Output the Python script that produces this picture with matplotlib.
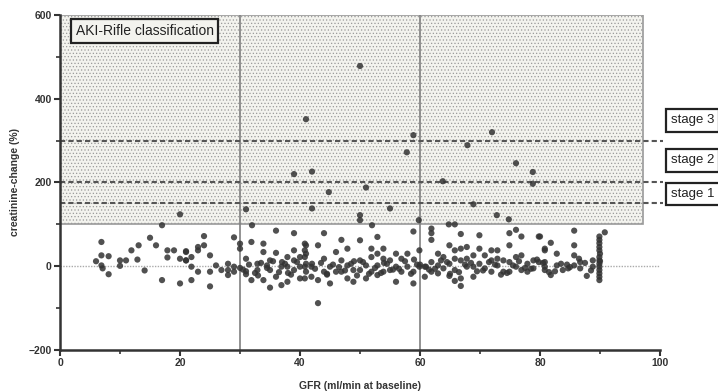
import numpy as np
import matplotlib
matplotlib.use("Agg")
import matplotlib.pyplot as plt

# points above the 100 % line (AKI region)
high_gfr = [20, 17, 31, 50, 41, 58.9, 57.8, 39, 42, 44.8, 51, 63.8, 67.9, 72, 76, 78.8, 78.8,
            68.9, 72.8, 74.8, 64.8, 65.8, 42, 55, 50, 50, 52, 59.8, 32]
high_chg = [124, 98, 136, 478, 351, 313, 272, 220, 226, 177, 188, 203, 289, 320, 246, 225, 197,
            148, 122, 112, 100, 100, 138, 138, 122, 110, 98, 110, 98]

band_gfr = [6.9, 6.0, 6.9, 8.1, 6.9, 7.1, 8.1, 10, 10, 11, 11.9, 13.1, 12.9, 14.1, 15, 16, 17, 17.9,
            17.9, 19, 20, 20, 21, 21,
            21, 21, 21.9, 21.9, 21.9, 23, 23, 24, 24, 23, 25, 25, 25, 26, 26.9, 28, 28, 28, 29, 29, 29,
            30, 30, 31, 31, 31.9, 31.9, 32.9, 32.9, 33.9, 33.9, 33.9, 35, 35, 35, 36, 36, 36, 36.9,
            36.9, 37.9, 37.9, 37.9, 39, 39, 39, 39, 40, 40, 40, 41, 41, 41, 41, 43,
            40.8, 40.8, 40.8, 40.8, 40.8, 41.9, 41.9, 43, 43, 44, 44, 44, 45, 45, 46, 46, 46.9, 46.9,
            46.9, 47.9, 47.9, 47.9, 48.9, 48.9, 50, 50, 50, 51, 51, 51.9, 51.9, 51.9, 52.9, 52.9,
            52.9, 52.9, 53.9, 53.9, 53.9, 55, 55, 56, 56, 56, 56.9, 56.9, 57.9, 57.9, 58.9, 58.9,
            58.9, 59.9, 59.9, 60.8, 60.8,
            61.9, 61.9, 61.9, 61, 61.9, 61.9, 63, 63, 63, 63.9, 63.9, 64.9, 64.9, 64.9, 65.8, 65.8,
            65.8, 65.8, 66.8, 66.8, 66.8, 66.8, 66.8, 67.8, 67.8, 67.8, 68.9, 68.9, 68.9, 69.9, 69.9,
            69.9, 70.8, 70.8, 71.9, 71.9, 71.9, 72.9, 72.9, 72.9, 73.9, 73.9, 74.9, 74.9, 74.9, 74.9,
            76, 76, 76, 76.9, 76.9, 76.9, 77.9, 77.9, 78.9, 78.9, 79.8, 79.8, 80.8, 80.8,
            80, 80.8, 81.8, 80.8, 80.8, 81.8, 82.8, 82.8, 83.8, 84.7, 85.7, 85.7, 85.7, 85.7, 86.7,
            86.7, 87.8, 88.8, 88.8, 89.9, 89.9, 89.9, 89.9, 89.9, 89.9, 89.9, 89.9, 89.9, 89.9,
            89.9, 89.9, 89.9, 90.8]
band_chg = [58, 12, 26, 24, 2, -5, -19, 14, 1, 14, 38, 50, 16, -10, 68, 50, -33, 38,
            21, 38, 18, -41, 34, 14,
            36, 14, 22, -1, -33, 46, 38, 72, 50, -13, 26, -13, -48, 2, -9, 6, -9, -21, 69, -1, -13,
            54, 42, 18, -19, 58, -33, 6, -9, 54, 34, -33, 14, -9, -51, 85, 32, -25, -1,
            -45, 22, -1, -37, 79, 38, 14, -9, 22, -1, -29, 50, 30, 6, -13, -88,
            54, 38, 22, -1, -29, -1, -25, 50, -33, 79, 18, -13, -1, -41, 34, -13, 63, 14,
            -13, 42, 2, -29, -9, -37, 62, 14, -9, 2, -29, 42, 22, -13, 70, 30,
            2, -21, 42, 18, -13, 14, -9, 30, -1, -37, 18, -13, 30, -1, 83, -13,
            -41, 38, -1, -1, -25,
            90, 79, 63, -1, 10, -13, 30, 2, -17, 22, -5, 50, 6, -23, 38, 18,
            -9, -35, 77, 42, 14, -29, -47, 46, 18, -1, 26, -1, -25, 74, 42,
            6, 26, -5, 38, 14, -13, 38, 18, 2, 14, -13, 79, 50, 10, -13,
            87, 22, -1, 71, 26, -9, 6, -13, 14, -5, 71, 10, 38, -1,
            71, 42, 56, 10, -9, -21, 30, 2, -9, -5, 85, 50, 26, 2, 10,
            -5, -23, 14, -1, 71, 63, 55, 46, 38, 22, 14, 6, -1, -9,
            -17, -25, -33, 81]

# extra overlapping points in the dense band around zero
dense_gfr = [30.5, 31.5, 32.5, 33.5, 34.5, 35.5, 36.5, 37.5, 38.5, 39.5, 42.5, 43.5, 44.5, 45.5,
             47.5, 48.5, 49.5, 50.5, 52.5, 53.5, 54.5, 55.5, 57.5, 58.5, 59.5, 62.5, 64.5, 66.5,
             68.5, 70.5, 72.5, 74.5, 76.5, 78.5, 80.5, 82.5, 84.5, 86.5, 88.5,
             31, 33, 34.5, 37, 38, 42, 44.5, 46.5, 49, 51.5, 54, 56.5, 59, 61.5, 63.5, 65, 67.5,
             69.5, 71.5, 73.5, 75.5, 77.5, 79.5, 81.5, 83.5, 85, 87.5, 30, 60, 90, 90]
dense_chg = [-8, 4, -16, 8, -4, 12, -14, 6, -20, 10, -6, 8, -18, 4, -10, 6, -22, 10, -4, -16,
             6, -8, 12, -18, 4, -6, 10, -14, 8, -10, 4, -16, 12, -6, 8, -12, 4, 18, -10,
             -12, -22, 2, 10, -16, 6, -20, -2, 12, -18, 8, -6, 16, -8, 14, -18, 4, -12, 10, -20,
             2, -4, 16, -14, 6, -2, 8, -4, 4, 12, 30]

gfr = np.array(high_gfr + band_gfr + dense_gfr)
chg = np.array(high_chg + band_chg + dense_chg)

stage_labels = ["stage 3", "stage 2", "stage 1"]
stage_limits = [300, 200, 150]
stage_text_y = [348, 253, 172]

plt.rcParams['font.family'] = ['Liberation Sans', 'DejaVu Sans']
plt.rcParams['hatch.color'] = '#d2d2cc'
plt.rcParams['hatch.linewidth'] = 0.5

fig = plt.figure(figsize=(7.18, 3.92), dpi=100)
ax = fig.add_axes([0.0836, 0.107, 0.8356, 0.855])

# AKI region
ax.add_patch(plt.Rectangle((0, 100), 97.2, 500, facecolor='#f3f3ee', edgecolor='#9a9a9a',
                           hatch='.....', lw=1.2, zorder=0))
ax.text(2.6, 562, "AKI-Rifle classification", fontsize=10, va='center', ha='left', color='#222222',
        bbox=dict(boxstyle='square,pad=0.35', fc='#f3f3ee', ec='#222222', lw=1.6), zorder=5)

ax.axvline(30, color='#808080', lw=1.2, zorder=1)
ax.axvline(60, color='#808080', lw=1.2, zorder=1)
ax.plot([0, 100], [0, 0], color='#aaaaaa', lw=1.0, ls=(0, (1, 1)), zorder=1)

for lab, lim, ty in zip(stage_labels, stage_limits, stage_text_y):
    ax.plot([0, 100.5], [lim, lim], color='#555555', lw=1.5, ls=(0, (2.5, 1.5)), clip_on=False, zorder=2)
    ax.text(101.8, ty, lab, fontsize=9.5, va='center', ha='left', color='#222222', clip_on=False,
            bbox=dict(boxstyle='square,pad=0.4', fc='white', ec='#222222', lw=1.6))

ax.scatter(gfr, chg, s=20, color='#333333', alpha=0.85, edgecolors='none', zorder=3)

ax.set_xlim(0, 100)
ax.set_ylim(-200, 600)
ax.set_xticks([0, 20, 40, 60, 80, 100])
ax.set_xticks([10, 30, 50, 70, 90], minor=True)
ax.set_yticks([-200, 0, 200, 400, 600])
ax.set_yticks([-100, 100, 300, 500], minor=True)
for s in ['top', 'right']:
    ax.spines[s].set_visible(False)
for s in ['left', 'bottom']:
    ax.spines[s].set_linewidth(1.8)
    ax.spines[s].set_color('#333333')
ax.tick_params(which='major', length=4, width=1.5, labelsize=7.5, colors='#333333', pad=2)
ax.tick_params(which='minor', length=3, width=1.2, colors='#333333')
for lbl in ax.get_xticklabels() + ax.get_yticklabels():
    lbl.set_fontweight('bold')

ax.set_xlabel("GFR (ml/min at baseline)", fontsize=7.5, fontweight='bold', color='#333333', labelpad=9)
ax.set_ylabel("creatinine-change (%)", fontsize=7.5, fontweight='bold', color='#333333', labelpad=6)

fig.savefig("out.png", dpi=100)
